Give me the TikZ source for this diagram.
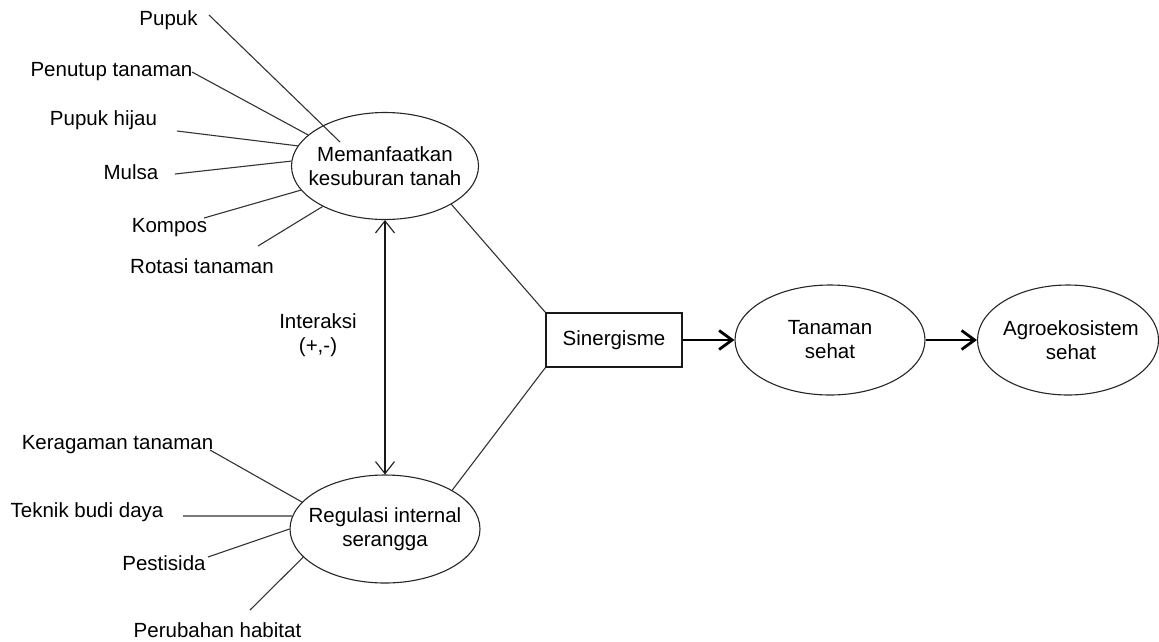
\documentclass[tikz,border=0pt]{standalone}
\usepackage{fontspec}
\setmainfont{Liberation Sans}
\usetikzlibrary{shapes.geometric,arrows.meta}
\begin{document}
\begin{tikzpicture}[x=1pt,y=-1pt,
  every node/.style={font=\fontsize{20.5}{24}\selectfont, text=black},
  lbl/.style={anchor=base, inner sep=0pt},
  ctext/.style={inner sep=0pt, align=center},
  ell/.style={draw=black!85, ellipse, line width=1.1pt, inner sep=0pt},
  spoke/.style={line width=1.1pt, draw=black!80},
  thinarrow/.style={line width=1.1pt, draw=black!90, {Straight Barb[length=12pt,width=19pt]}-{Straight Barb[length=12pt,width=19pt]}},
  thickarrow/.style={line width=2.8pt, draw=black, -{Straight Barb[length=13pt,width=19pt]}},
  boxst/.style={draw=black!90, rectangle, line width=1.3pt, minimum width=136pt, minimum height=54pt, inner sep=0pt}
]
\useasboundingbox (0,0) rectangle (1159,641);

% main nodes
\node[ell, minimum width=187pt, minimum height=107pt] (e1) at (385,166) {};
\node[ctext] (e1t) at (e1.center) {Memanfaatkan\\kesuburan tanah};
\node[ell, minimum width=190pt, minimum height=108pt] (e2) at (385,529) {};
\node[ctext] (e2t) at (e2.center) {Regulasi internal\\serangga};
\node[boxst] (box) at (614,340) {Sinergisme};
\node[ell, minimum width=190pt, minimum height=110pt] (e3) at (830,340) {};
\node[ctext] (e3t) at (e3.center) {Tanaman\\sehat};
\node[ell, minimum width=181pt, minimum height=110pt] (e4) at (1068,340) {};
\node[ctext] (e4t) at (1071,340) {Agroekosistem\\sehat};

% labels
\node[lbl] (tpupuk) at (168.5,25) {Pupuk};
\node[lbl] (tpenutup) at (111.5,76) {Penutup tanaman};
\node[lbl] (thijau) at (103.5,125) {Pupuk hijau};
\node[lbl] (tmulsa) at (131,179) {Mulsa};
\node[lbl] (tkompos) at (169.5,232) {Kompos};
\node[lbl] (trotasi) at (202,273) {Rotasi tanaman};
\node[lbl] (tkeragaman) at (117.5,449) {Keragaman tanaman};
\node[lbl] (tteknik) at (87,517) {Teknik budi daya};
\node[lbl] (tpest) at (164,570) {Pestisida};
\node[lbl] (tperub) at (217.5,637) {Perubahan habitat};
\node[ctext] (tinter) at (318,335) {Interaksi\\(+,-)};

% spoke start points
\coordinate (s1) at (209,15);
\coordinate (pk) at (340,142);
\coordinate (s2) at (192,72);
\coordinate (s3) at (177,131);
\coordinate (s4) at (175,174);
\coordinate (s5) at (204,218);
\coordinate (s6) at (258,246);
\coordinate (s7) at (210,450);
\coordinate (s8) at (183,516);
\coordinate (s9) at (208,557);
\coordinate (s10) at (250,610);

% spokes
\draw[spoke] (s1) -- (pk);
\draw[spoke] (s2) -- (e1.158);
\draw[spoke] (s3) -- (e1.167.5);
\draw[spoke] (s4) -- (e1.177.6);
\draw[spoke] (s5) -- (e1.196);
\draw[spoke] (s6) -- (e1.213.5);
\draw[spoke] (s7) -- (e2.162);
\draw[spoke] (s8) -- (e2.172);
\draw[spoke] (s9) -- (e2.180);
\draw[spoke] (s10) -- (e2.199);

% links to box
\draw[spoke] (e1.330.4) -- (box.north west);
\draw[spoke] (e2.30.2) -- (box.south west);

% arrows
\draw[thinarrow] (e1.south) -- (e2.north);
\draw[thickarrow] (box.east) -- (e3.west);
\draw[thickarrow] (e3.east) -- (e4.west);
\end{tikzpicture}
\end{document}
